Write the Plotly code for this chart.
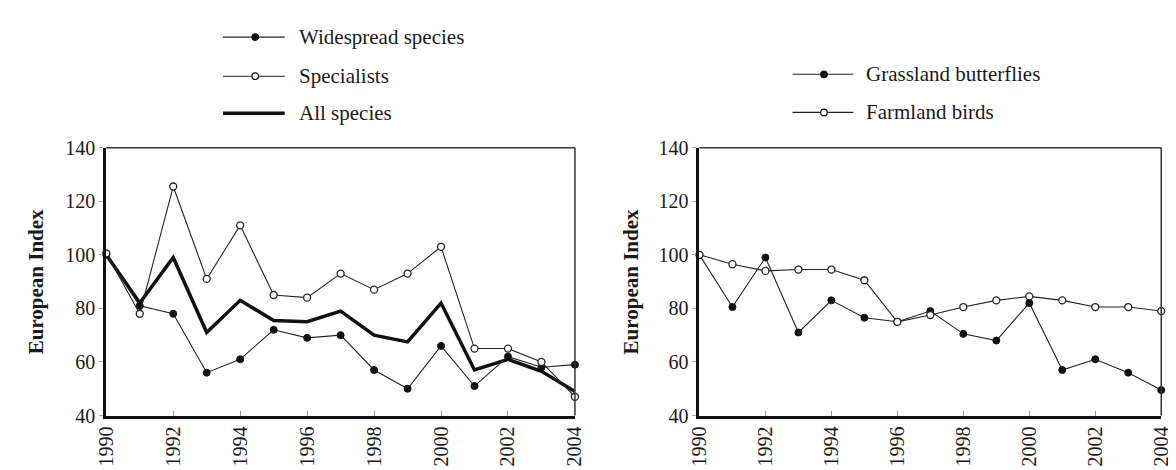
import plotly.graph_objects as go

years = list(range(1990, 2005))
tick_years = list(range(1990, 2005, 2))
y_ticks = [40, 60, 80, 100, 120, 140]

widespread = [100, 81, 78, 56, 61, 72, 69, 70, 57, 50, 66, 51, 62, 58, 59]
specialists = [100.5, 78, 125.5, 91, 111, 85, 84, 93, 87, 93, 103, 65, 65, 60, 47]
all_species = [100, 82, 99, 71, 83, 75.5, 75, 79, 70, 67.5, 82, 57, 61, 56.5, 49]

butterflies = [100, 80.5, 99, 71, 83, 76.5, 75, 79, 70.5, 68, 82, 57, 61, 56, 49.5]
farm_birds = [100, 96.5, 94, 94.5, 94.5, 90.5, 75, 77.5, 80.5, 83, 84.5, 83, 80.5, 80.5, 79]

legend_left = ["Widespread species", "Specialists", "All species"]
legend_right = ["Grassland butterflies", "Farmland birds"]

W, H = 1176, 470
FONT = "Liberation Serif"
INK = "#1a1a1a"
FS_TICK = 20
FS_TEXT = 21


def px(x):
    return x / W


def py(y):
    return 1 - y / H


fig = go.Figure()

thin = dict(color="#222222", width=1.1)
filled = dict(symbol="circle", size=7, color="#111111", line=dict(color="#111111", width=1))
hollow = dict(symbol="circle", size=7, color="white", line=dict(color="#222222", width=1.3))

fig.add_trace(go.Scatter(x=years, y=all_species, mode="lines", line=dict(color="#111111", width=3.5),
                         xaxis="x", yaxis="y", showlegend=False, cliponaxis=False))
fig.add_trace(go.Scatter(x=years, y=widespread, mode="lines+markers", line=thin, marker=filled,
                         xaxis="x", yaxis="y", showlegend=False, cliponaxis=False))
fig.add_trace(go.Scatter(x=years, y=specialists, mode="lines+markers", line=thin, marker=hollow,
                         xaxis="x", yaxis="y", showlegend=False, cliponaxis=False))

fig.add_trace(go.Scatter(x=years, y=butterflies, mode="lines+markers", line=thin, marker=filled,
                         xaxis="x2", yaxis="y2", showlegend=False, cliponaxis=False))
fig.add_trace(go.Scatter(x=years, y=farm_birds, mode="lines+markers", line=thin, marker=hollow,
                         xaxis="x2", yaxis="y2", showlegend=False, cliponaxis=False))

ydom = [py(416), py(135)]
xaxis_common = dict(
    range=[1990, 2004], tickvals=tick_years, ticktext=[str(t) for t in tick_years],
    tickangle=-90, showgrid=False, zeroline=False, showline=True, linewidth=3, linecolor="#111111",
    ticks="inside", ticklen=5, tickwidth=1, tickcolor="#999999",
    tickfont=dict(family=FONT, size=FS_TICK, color=INK),
)
yaxis_common = dict(
    range=[40, 140], tickvals=y_ticks, showgrid=False, zeroline=False, showline=True,
    linewidth=3, linecolor="#111111", ticks="outside", ticklen=4, tickwidth=1, tickcolor="#aaaaaa",
    tickfont=dict(family=FONT, size=FS_TICK, color=INK), domain=ydom,
)

fig.update_layout(
    width=W, height=H, margin=dict(l=0, r=0, t=0, b=0),
    font=dict(family=FONT),
    paper_bgcolor="white", plot_bgcolor="white", showlegend=False,
    xaxis=dict(domain=[px(88), px(566)], anchor="y", **xaxis_common),
    yaxis=dict(anchor="x", **yaxis_common),
    xaxis2=dict(domain=[px(693), px(1164)], anchor="y2", **xaxis_common),
    yaxis2=dict(anchor="x2", **yaxis_common),
)

shapes = []
annotations = []

# thin top/right frame lines
for xr, yr in (("x domain", "y domain"), ("x2 domain", "y2 domain")):
    shapes.append(dict(type="line", xref=xr, yref=yr, x0=0, x1=1, y0=1, y1=1,
                       line=dict(color="#333333", width=1.5)))
    shapes.append(dict(type="line", xref=xr, yref=yr, x0=1, x1=1, y0=0, y1=1,
                       line=dict(color="#333333", width=1.5)))

# y-axis titles
for xc in (16, 623):
    annotations.append(dict(text="<b>European Index</b>", xref="paper", yref="paper",
                            x=px(xc), y=(ydom[0] + ydom[1]) / 2, xanchor="center", yanchor="middle",
                            textangle=-90, showarrow=False,
                            font=dict(family=FONT, size=FS_TEXT, color=INK)))


def legend_row(x0, x1, xm, xt, y, label, kind):
    if kind == "thick":
        shapes.append(dict(type="line", xref="paper", yref="paper", x0=px(x0), x1=px(x1),
                           y0=py(y), y1=py(y), line=dict(color="#111111", width=3.5)))
    else:
        shapes.append(dict(type="line", xref="paper", yref="paper", x0=px(x0), x1=px(x1),
                           y0=py(y), y1=py(y), line=dict(color="#222222", width=1.1)))
        shapes.append(dict(type="circle", xref="paper", yref="paper",
                           xsizemode="pixel", ysizemode="pixel",
                           xanchor=px(xm), yanchor=py(y), x0=-3.3, x1=3.3, y0=-3.3, y1=3.3,
                           fillcolor="#111111" if kind == "filled" else "white",
                           line=dict(color="#111111", width=1.2)))
    annotations.append(dict(text=label, xref="paper", yref="paper", x=px(xt), y=py(y),
                            xanchor="left", yanchor="middle", showarrow=False,
                            font=dict(family=FONT, size=FS_TEXT, color=INK)))


legend_row(207, 270, 240, 283, 19, legend_left[0], "filled")
legend_row(207, 270, 240, 283, 60, legend_left[1], "hollow")
legend_row(207, 270, 240, 283, 99, legend_left[2], "thick")
legend_row(788, 850, 820, 861, 58, legend_right[0], "filled")
legend_row(788, 850, 820, 861, 98, legend_right[1], "hollow")

fig.update_layout(shapes=shapes, annotations=annotations)

fig.write_html("out.html")
